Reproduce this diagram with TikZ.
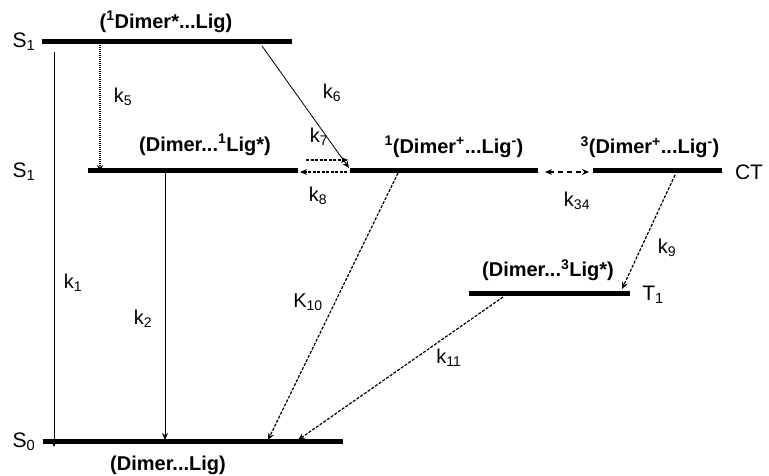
\documentclass[tikz,border=0pt]{standalone}
\usepackage{fontspec}
\setmainfont{Liberation Sans}
\usetikzlibrary{arrows.meta}
\begin{document}
\begin{tikzpicture}[x=1pt,y=-1pt,
  level/.style={line width=5pt},
  lbl/.style={font=\fontsize{20}{22}\selectfont\bfseries, inner sep=0pt},
  st/.style={font=\fontsize{21}{23}\selectfont, inner sep=0pt},
  kl/.style={font=\fontsize{20}{22}\selectfont, inner sep=0pt},
  tip/.style={-{Stealth[length=7pt,width=6pt]}},
  solidarr/.style={tip, line width=0.8pt},
  dasharr/.style={tip, line width=1.2pt, dash pattern=on 3pt off 1.5pt},
  dotarr/.style={tip, line width=1.2pt, dash pattern=on 1pt off 1pt},
  dashdbl/.style={{Stealth[length=7pt,width=6pt]}-{Stealth[length=7pt,width=6pt]}, line width=1.2pt, dash pattern=on 5pt off 4pt}]
\useasboundingbox (0,0) rectangle (769,476);
% levels
\coordinate (s1aL) at (42,42);   \coordinate (s1aR) at (292,42);
\coordinate (s1bL) at (88,171);  \coordinate (s1bR) at (298,171);
\coordinate (ct1L) at (350,171); \coordinate (ct1R) at (538,171);
\coordinate (ct3L) at (593,171); \coordinate (ct3R) at (722,171);
\coordinate (t1L) at (469,293);  \coordinate (t1R) at (630,293);
\coordinate (s0L) at (43,441);   \coordinate (s0R) at (343,441);
\draw[level] (s1aL) -- (s1aR);
\draw[level] (s1bL) -- (s1bR);
\draw[level] (ct1L) -- (ct1R);
\draw[level] (ct3L) -- (ct3R);
\draw[level] (t1L) -- (t1R);
\draw[level] (s0L) -- (s0R);
% state labels
\node[st] (nS1a) at (24,42) {S\textsubscript{1}};
\node[st] (nS1b) at (24,172) {S\textsubscript{1}};
\node[st] (nS0) at (24,442) {S\textsubscript{0}};
\node[st] (nCT) at (749,172) {CT};
\node[st] (nT1) at (653,295) {T\textsubscript{1}};
% species labels
\node[lbl] (L1) at (166,22) {(\textsuperscript{1}Dimer*...Lig)};
\node[lbl] (L2) at (205,145) {(Dimer...\textsuperscript{1}Lig*)};
\node[lbl] (L3) at (454,147) {\textsuperscript{1}(Dimer\textsuperscript{+}...Lig\textsuperscript{-})};
\node[lbl] (L4) at (650,147) {\textsuperscript{3}(Dimer\textsuperscript{+}...Lig\textsuperscript{-})};
\node[lbl] (L5) at (548,270) {(Dimer...\textsuperscript{3}Lig*)};
\node[lbl] (L6) at (168,465) {(Dimer...Lig)};
% arrow endpoints
\coordinate (a1s) at (54,52);   \coordinate (a1e) at (54,447);
\coordinate (a5s) at (100,45);  \coordinate (a5e) at (100,172);
\coordinate (a6s) at (262,46);  \coordinate (a6e) at (349,168);
\coordinate (a7s) at (306,160); \coordinate (a7e) at (348,160);
\coordinate (a8s) at (347,172); \coordinate (a8e) at (300,172);
\coordinate (a34s) at (545,172); \coordinate (a34e) at (589,172);
\coordinate (a9s) at (675,175); \coordinate (a9e) at (622,289);
\coordinate (a10s) at (398,173); \coordinate (a10e) at (268,440);
\coordinate (a11s) at (503,297); \coordinate (a11e) at (298,440);
\coordinate (a2s) at (165,173); \coordinate (a2e) at (165,440);
\draw[solidarr] (a1s) -- (a1e);
\draw[dotarr] (a5s) -- (a5e);
\draw[solidarr] (a6s) -- (a6e);
\draw[dasharr] (a7s) -- (a7e);
\draw[dasharr] (a8s) -- (a8e);
\draw[dashdbl] (a34s) -- (a34e);
\draw[dasharr] (a9s) -- (a9e);
\draw[dasharr] (a10s) -- (a10e);
\draw[dasharr] (a11s) -- (a11e);
\draw[solidarr] (a2s) -- (a2e);
% rate labels
\node[kl] (k1) at (73,283) {k\textsubscript{1}};
\node[kl] (k2) at (143,319) {k\textsubscript{2}};
\node[kl] (k5) at (123,97) {k\textsubscript{5}};
\node[kl] (k6) at (332,93) {k\textsubscript{6}};
\node[kl] (k7) at (319,137) {k\textsubscript{7}};
\node[kl] (k8) at (318,196) {k\textsubscript{8}};
\node[kl] (k34) at (577,201) {k\textsubscript{34}};
\node[kl] (k9) at (667,248) {k\textsubscript{9}};
\node[kl] (K10) at (308,302) {K\textsubscript{10}};
\node[kl] (k11) at (449,358) {k\textsubscript{11}};
\end{tikzpicture}
\end{document}
